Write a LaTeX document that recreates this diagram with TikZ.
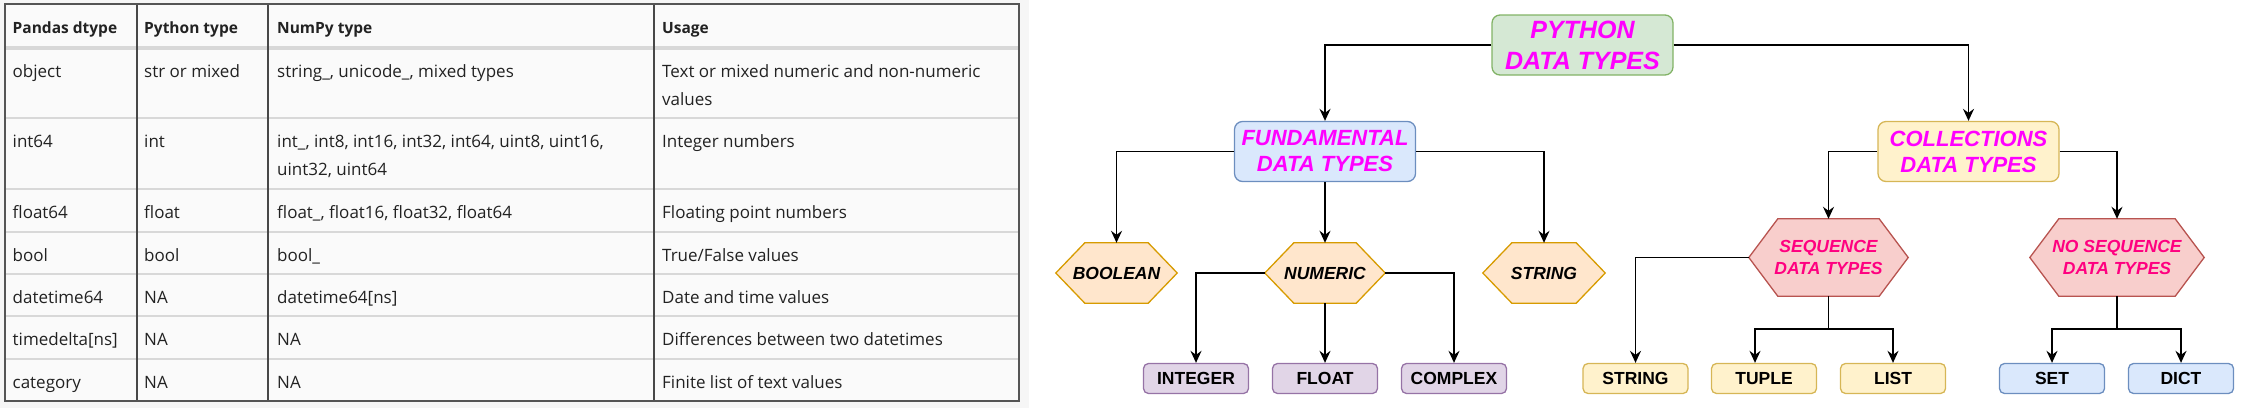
\documentclass[tikz,border=0pt]{standalone}
\usepackage{fontspec}
\usetikzlibrary{arrows.meta}
\newfontfamily\dfont{Liberation Sans}
\newfontfamily\tfont{Open Sans}
\definecolor{mag}{HTML}{FF00FF}
\definecolor{pinkt}{HTML}{FF0080}
\definecolor{gfill}{HTML}{D5E8D4}\definecolor{gdraw}{HTML}{82B366}
\definecolor{bfill}{HTML}{DAE8FC}\definecolor{bdraw}{HTML}{6C8EBF}
\definecolor{yfill}{HTML}{FFF2CC}\definecolor{ydraw}{HTML}{D6B656}
\definecolor{ofill}{HTML}{FFE6CC}\definecolor{odraw}{HTML}{D79B00}
\definecolor{rfill}{HTML}{F8CECC}\definecolor{rdraw}{HTML}{B85450}
\definecolor{pfill}{HTML}{E1D5E7}\definecolor{pdraw}{HTML}{9673A6}
\definecolor{ttext}{HTML}{222222}
\definecolor{tdark}{HTML}{555555}
\definecolor{tlight}{HTML}{D8D8D8}
\definecolor{tbg}{HTML}{FAFAFA}
\definecolor{sbg}{HTML}{F6F6F6}
\pgfdeclarelayer{background}
\pgfsetlayers{background,main}
\tikzset{
  bigbox/.style={draw, line width=1.3pt, rounded corners=8pt, inner sep=0pt, align=center,
    minimum width=181pt, minimum height=60pt, text=mag,
    font=\dfont\bfseries\itshape\fontsize{22}{26}\selectfont},
  hexnode/.style={inner sep=0pt, align=center, minimum height=60pt,
    font=\dfont\bfseries\itshape\fontsize{17.5}{22}\selectfont},
  hexorange/.style={fill=ofill, draw=odraw, line width=1.3pt, line join=miter},
  hexred/.style={fill=rfill, draw=rdraw, line width=1.3pt, line join=miter},
  leaf/.style={draw, line width=1.3pt, rounded corners=5pt, inner sep=0pt,
    minimum width=105pt, minimum height=30pt,
    font=\dfont\bfseries\fontsize{17.5}{20}\selectfont},
  arr/.style={line width=1.6pt, -{Stealth[length=12pt, width=11pt, inset=4pt]}},
  plain/.style={line width=1.6pt},
  th/.style={anchor=base west, inner sep=0pt, text=ttext, font=\tfont\bfseries\fontsize{15.5}{20}\selectfont},
  td/.style={anchor=base west, inner sep=0pt, text=ttext, font=\tfont\fontsize{17}{20}\selectfont},
}
\begin{document}
\begin{tikzpicture}[x=1pt, y=-1pt]
\useasboundingbox (0,0) rectangle (2246,408);
% ---------- table ----------
\fill[sbg] (0,0) rectangle (1029,408);
\fill[tbg] (5,4) rectangle (1019,401);
\foreach \yy in {118,189,232,274,316}
  \draw[tlight, line width=1.2pt] (5,\yy) -- (1019,\yy);
\draw[tlight, line width=2pt] (5,359) -- (1019,359);
\draw[tlight, line width=3.5pt] (5,48) -- (1019,48);
\foreach \xx in {137,268,654}
  \draw[tdark!85!black, line width=1.3pt] (\xx,4) -- (\xx,401);
\draw[tdark, line width=1.3pt] (5,4) rectangle (1019,401);
% header
\node[th] (h1) at (12.5,33.5) {Pandas dtype};
\node[th] (h2) at (144,33.5) {Python type};
\node[th] (h3) at (277,33.5) {NumPy type};
\node[th] (h4) at (662,33.5) {Usage};
% row 1
\node[td] (a1) at (12.5,77) {object};
\node[td] (b1) at (144,77) {str or mixed};
\node[td] (c1) at (277,77) {string\_, unicode\_, mixed types};
\node[td] (d1) at (662,77) {Text or mixed numeric and non-numeric};
\node[td] (d1b) at (662,105) {values};
% row 2
\node[td] (a2) at (12.5,147) {int64};
\node[td] (b2) at (144,147) {int};
\node[td] (c2) at (277,147) {int\_, int8, int16, int32, int64, uint8, uint16,};
\node[td] (c2b) at (277,175) {uint32, uint64};
\node[td] (d2) at (662,147) {Integer numbers};
% row 3
\node[td] (a3) at (12.5,218) {float64};
\node[td] (b3) at (144,218) {float};
\node[td] (c3) at (277,218) {float\_, float16, float32, float64};
\node[td] (d3) at (662,218) {Floating point numbers};
% row 4
\node[td] (a4) at (12.5,261) {bool};
\node[td] (b4) at (144,261) {bool};
\node[td] (c4) at (277,261) {bool\_};
\node[td] (d4) at (662,261) {True/False values};
% row 5
\node[td] (a5) at (12.5,303) {datetime64};
\node[td] (b5) at (144,303) {NA};
\node[td] (c5) at (277,303) {datetime64[ns]};
\node[td] (d5) at (662,303) {Date and time values};
% row 6
\node[td] (a6) at (12.5,345) {timedelta[ns]};
\node[td] (b6) at (144,345) {NA};
\node[td] (c6) at (277,345) {NA};
\node[td] (d6) at (662,345) {Differences between two datetimes};
% row 7
\node[td] (a7) at (12.5,388) {category};
\node[td] (b7) at (144,388) {NA};
\node[td] (c7) at (277,388) {NA};
\node[td] (d7) at (662,388) {Finite list of text values};
% ---------- diagram ----------
\node[bigbox, fill=gfill, draw=gdraw, font=\dfont\bfseries\itshape\fontsize{25}{31}\selectfont] (py) at (1582.5,45) {PYTHON\\DATA TYPES};
\node[bigbox, fill=bfill, draw=bdraw] (fund) at (1325,151.5) {FUNDAMENTAL\\DATA TYPES};
\node[bigbox, fill=yfill, draw=ydraw] (coll) at (1968.5,151.5) {COLLECTIONS\\DATA TYPES};
\node[hexnode, minimum width=121pt] (bool) at (1116.5,273) {BOOLEAN};
\node[hexnode, minimum width=120pt] (num) at (1325,273) {NUMERIC};
\node[hexnode, minimum width=122pt] (strh) at (1544,273) {STRING};
\node[hexnode, minimum width=159pt, minimum height=77pt, text=pinkt] (seq) at (1828.5,257.5) {SEQUENCE\\DATA TYPES};
\node[hexnode, minimum width=174pt, minimum height=77pt, text=pinkt] (noseq) at (2117,257.5) {NO SEQUENCE\\DATA TYPES};
\begin{pgfonlayer}{background}
\foreach \n/\s in {bool/hexorange, num/hexorange, strh/hexorange, seq/hexred, noseq/hexred}
  \path[\s] (\n.west) -- ([xshift=29pt]\n.north west) -- ([xshift=-29pt]\n.north east) -- (\n.east)
    -- ([xshift=-29pt]\n.south east) -- ([xshift=29pt]\n.south west) -- cycle;
\end{pgfonlayer}
\node[leaf, fill=pfill, draw=pdraw] (int) at (1196,378.5) {INTEGER};
\node[leaf, fill=pfill, draw=pdraw] (flt) at (1325,378.5) {FLOAT};
\node[leaf, fill=pfill, draw=pdraw] (cpx) at (1454,378.5) {COMPLEX};
\node[leaf, fill=yfill, draw=ydraw] (strb) at (1635.5,378.5) {STRING};
\node[leaf, fill=yfill, draw=ydraw] (tup) at (1764,378.5) {TUPLE};
\node[leaf, fill=yfill, draw=ydraw] (list) at (1893,378.5) {LIST};
\node[leaf, fill=bfill, draw=bdraw] (set) at (2052,378.5) {SET};
\node[leaf, fill=bfill, draw=bdraw] (dict) at (2181,378.5) {DICT};
\coordinate (sj) at (1828.5,329);
\coordinate (nj) at (2117,329);
% connectors
\draw[arr] (py.west) -| (fund.north);
\draw[arr] (py.east) -| (coll.north);
\draw[arr] (fund.west) -| (bool.north);
\draw[arr] (fund.south) -- (num.north);
\draw[arr] (fund.east) -| (strh.north);
\draw[arr] (num.west) -| (int.north);
\draw[arr] (num.south) -- (flt.north);
\draw[arr] (num.east) -| (cpx.north);
\draw[arr] (coll.west) -| (seq.north);
\draw[arr] (coll.east) -| (noseq.north);
\draw[arr] (seq.west) -| (strb.north);
\draw[plain] (seq.south) -- (sj);
\draw[arr] (sj) -| ([xshift=-9pt]tup.north);
\draw[arr] (sj) -| (list.north);
\draw[plain] (noseq.south) -- (nj);
\draw[arr] (nj) -| (set.north);
\draw[arr] (nj) -| (dict.north);
\end{tikzpicture}
\end{document}
